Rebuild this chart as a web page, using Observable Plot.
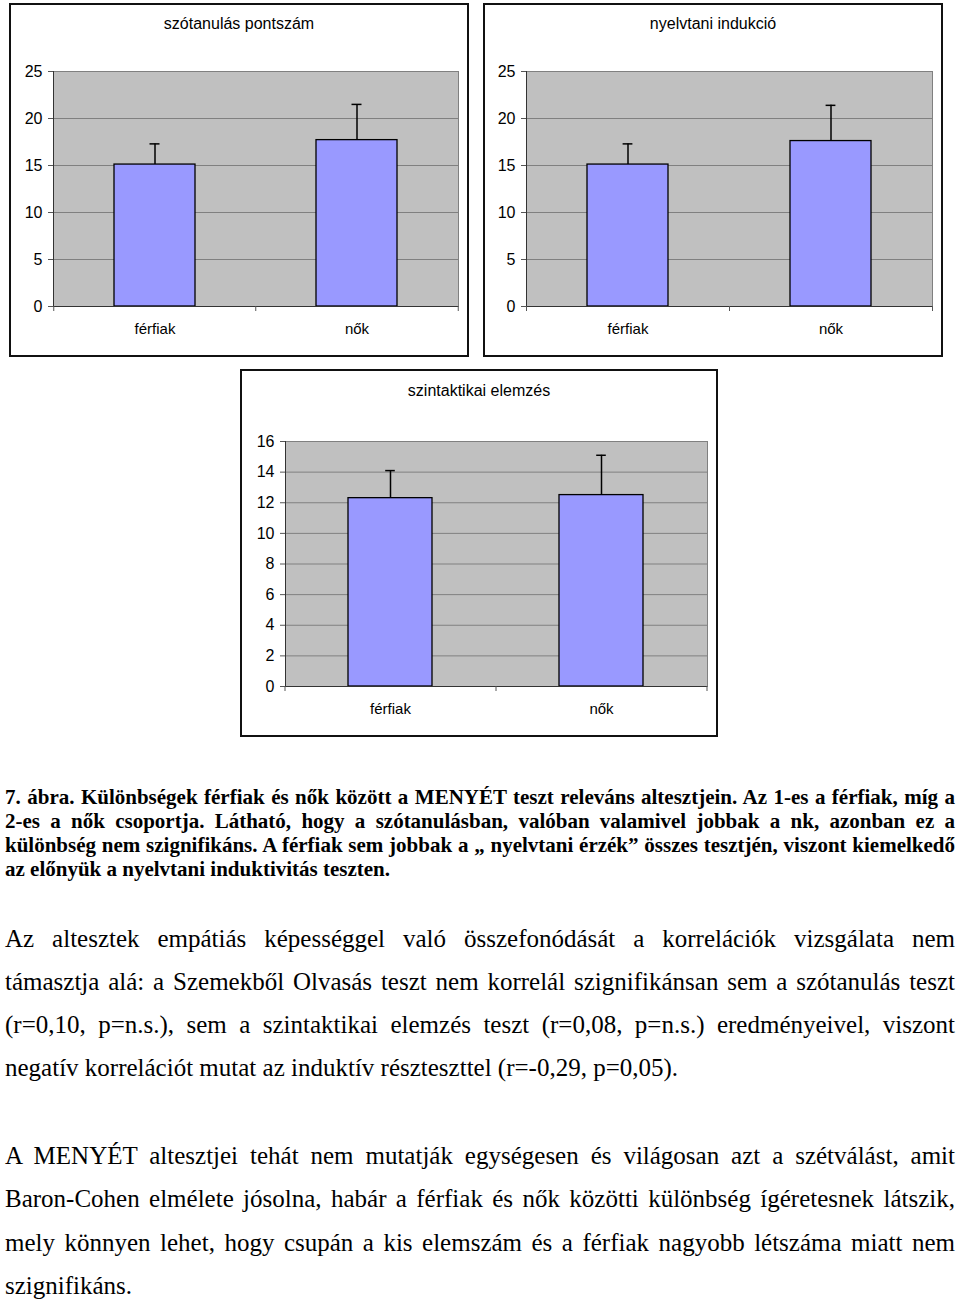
<!DOCTYPE html>
<html><head><meta charset="utf-8">
<script src="https://cdn.jsdelivr.net/npm/d3@7"></script>
<script src="https://cdn.jsdelivr.net/npm/@observablehq/plot@0.6"></script>
<style>
html,body{margin:0;padding:0;background:#fff;}
body{width:960px;height:1303px;position:relative;overflow:hidden;font-family:"Liberation Sans",Arial,sans-serif;}
.box{position:absolute;border:2px solid #111;box-sizing:border-box;background:#fff;}
.box .title{position:absolute;left:0;right:0;text-align:center;font-size:16px;line-height:18px;color:#000;}
.box svg{position:absolute;left:0;top:0;}
.line{position:absolute;left:5px;width:950px;font-family:"Liberation Serif","Times New Roman",serif;color:#000;}
.cap{font-weight:bold;font-size:21px;line-height:24px;}
.body{font-size:25px;line-height:30px;}
.just{text-align:justify;text-align-last:justify;}
</style></head><body>
<div id="charts"></div>
<div id="text"></div>
<script>
// ---- data ----
const groups = ["férfiak", "nők"];
const chartTitles = ["szótanulás pontszám", "nyelvtani indukció", "szintaktikai elemzés"];
const szotanulasMean = [15.1, 17.7];
const szotanulasErr = [17.3, 21.5];
const indukcioMean = [15.1, 17.6];
const indukcioErr = [17.3, 21.4];
const szintaktikaiMean = [12.3, 12.5];
const szintaktikaiErr = [14.1, 15.1];
const yTicks25 = [0, 5, 10, 15, 20, 25];
const yTicks16 = [0, 2, 4, 6, 8, 10, 12, 14, 16];

const captionLines = [
  "7. ábra. Különbségek férfiak és nők között a MENYÉT teszt releváns altesztjein. Az 1-es a férfiak, míg a",
  "2-es a nők csoportja. Látható, hogy a szótanulásban, valóban valamivel jobbak a nk, azonban ez a",
  "különbség nem szignifikáns. A férfiak sem jobbak a „ nyelvtani érzék” összes tesztjén, viszont kiemelkedő",
  "az előnyük a nyelvtani induktivitás teszten."
];
const para1 = [
  "Az altesztek empátiás képességgel való összefonódását a korrelációk vizsgálata nem",
  "támasztja alá: a Szemekből Olvasás teszt nem korrelál szignifikánsan sem a szótanulás teszt",
  "(r=0,10, p=n.s.), sem a szintaktikai elemzés teszt (r=0,08, p=n.s.) eredményeivel, viszont",
  "negatív korrelációt mutat az induktív részteszttel (r=-0,29, p=0,05)."
];
const para2 = [
  "A MENYÉT altesztjei tehát nem mutatják egységesen és világosan azt a szétválást, amit",
  "Baron-Cohen elmélete jósolna, habár a férfiak és nők közötti különbség ígéretesnek látszik,",
  "mely könnyen lehet, hogy csupán a kis elemszám és a férfiak nagyobb létszáma miatt nem",
  "szignifikáns."
];

// ---- layout ----
const boxes = [
  {left: 9, top: 3, w: 460, h: 354, ml: 42, mr: 9, mt: 66, mb: 49, titleTop: 10, mean: szotanulasMean, err: szotanulasErr, ticks: yTicks25, max: 25},
  {left: 483, top: 3, w: 460, h: 354, ml: 41, mr: 9, mt: 66, mb: 49, titleTop: 10, mean: indukcioMean, err: indukcioErr, ticks: yTicks25, max: 25},
  {left: 240, top: 369, w: 478, h: 368, ml: 43, mr: 9, mt: 70, mb: 49, titleTop: 11, mean: szintaktikaiMean, err: szintaktikaiErr, ticks: yTicks16, max: 16}
];

const chartsEl = document.getElementById("charts");
boxes.forEach((b, k) => {
  const box = document.createElement("div");
  box.className = "box";
  Object.assign(box.style, {left: b.left + "px", top: b.top + "px", width: b.w + "px", height: b.h + "px"});
  const W = b.w - 4, H = b.h - 4;
  const data = groups.map((g, i) => ({group: g, mean: b.mean[i], err: b.err[i]}));
  const step = (W - b.ml - b.mr) / 2;
  const bw = 0.4 * step;
  const capInset = (bw - 10) / 2;
  const plot = Plot.plot({
    width: W, height: H,
    marginLeft: b.ml, marginRight: b.mr, marginTop: b.mt, marginBottom: b.mb,
    style: {fontFamily: "'Liberation Sans', Arial, sans-serif", fontSize: "15px", color: "#000", background: "transparent", overflow: "visible"},
    x: {domain: groups, paddingInner: 0.6, paddingOuter: 0.3, axis: null},
    y: {domain: [0, b.max], axis: null},
    marks: [
      Plot.frame({fill: "#c0c0c0", stroke: "#808080"}),
      Plot.gridY(b.ticks, {stroke: "#808080", strokeOpacity: 1}),
      Plot.barY(data, {x: "group", y: "mean", fill: "#9999ff", stroke: "#000", strokeWidth: 1.3}),
      Plot.ruleX(data, {x: "group", y1: "mean", y2: "err", stroke: "#000", strokeWidth: 1.5}),
      Plot.tickY(data, {x: "group", y: "err", stroke: "#000", strokeWidth: 1.5, insetLeft: capInset, insetRight: capInset}),
      Plot.frame({anchor: "left", stroke: "#333"}),
      Plot.ruleY([0], {stroke: "#333"}),
      Plot.ruleX(groups, {x: d => d, y1: 0, y2: 0, dx: -step / 2, insetBottom: -5, stroke: "#555"}),
      Plot.ruleX(groups.slice(-1), {x: d => d, y1: 0, y2: 0, dx: step / 2, insetBottom: -5, stroke: "#555"}),
      Plot.axisY({ticks: b.ticks, tickSize: 5, tickPadding: 6, stroke: "#555", fontSize: 16, label: null, tickFormat: d => String(d)}),
      Plot.axisX({tickSize: 0, tickPadding: 17, fontSize: 15, label: null})
    ]
  });
  box.appendChild(plot);
  const t = document.createElement("div");
  t.className = "title";
  t.style.top = b.titleTop + "px";
  t.textContent = chartTitles[k];
  box.appendChild(t);
  chartsEl.appendChild(box);
});

// ---- text ----
const textEl = document.getElementById("text");
function addLines(lines, cls, tops, lh) {
  lines.forEach((s, i) => {
    const d = document.createElement("div");
    d.className = "line " + cls + (i < lines.length - 1 ? " just" : "");
    d.style.top = tops[i] + "px";
    d.textContent = s;
    textEl.appendChild(d);
    let fs = parseFloat(getComputedStyle(d).fontSize);
    let guard = 0;
    while (d.getBoundingClientRect().height > lh * 1.5 && guard++ < 40) {
      fs -= 0.2;
      d.style.fontSize = fs + "px";
    }
  });
}
addLines(captionLines, "cap", [785, 809, 833, 857], 24);
addLines(para1, "body", [924, 967, 1010, 1053], 30);
addLines(para2, "body", [1141, 1184, 1228, 1271], 30);
</script>
</body></html>
